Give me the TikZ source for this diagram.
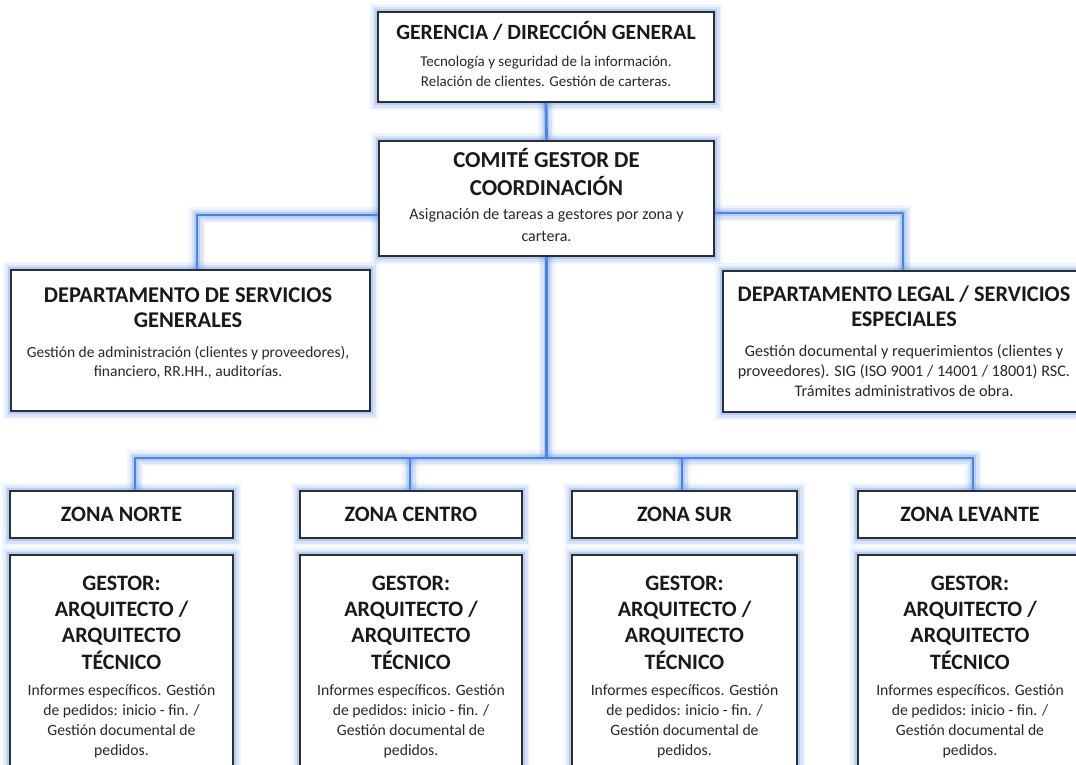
\documentclass[tikz,border=0pt]{standalone}
\usepackage{fontspec}
\setmainfont{Carlito}
\usetikzlibrary{backgrounds}
\definecolor{glowc}{RGB}{95,145,230}
\definecolor{linec}{RGB}{78,132,215}
\definecolor{boxc}{RGB}{45,45,55}
\definecolor{txtc}{RGB}{25,25,25}
\definecolor{desc}{RGB}{40,40,40}
\tikzset{
  halo/.style={
    preaction={draw=glowc, draw opacity=0.10, line width=16pt},
    preaction={draw=glowc, draw opacity=0.17, line width=11pt},
    preaction={draw=glowc, draw opacity=0.28, line width=6pt}},
  box/.style={rectangle, halo, draw=boxc, line width=1.1pt, fill=white, inner sep=0pt},
  conn/.style={draw=linec, line width=2.8pt, line join=round, halo},
  ttl/.style={anchor=north, align=center, inner sep=0pt, text=txtc,
    font=\bfseries\fontsize{22.3}{25}\selectfont},
  dsc/.style={anchor=north, align=center, inner sep=0pt, text=desc,
    font=\fontsize{15.7}{20.2}\selectfont},
}
\begin{document}
\begin{tikzpicture}[x=1pt,y=-1pt]
\useasboundingbox (0,0) rectangle (1076,764);
% boxes
\node[box, minimum width=336pt, minimum height=90pt] (ger) at (546,57) {};
\node[box, minimum width=335pt, minimum height=115pt] (com) at (546.5,198.5) {};
\node[box, minimum width=359pt, minimum height=141pt] (srv) at (190.5,340.5) {};
\node[box, minimum width=362pt, minimum height=141pt] (leg) at (904,341.5) {};
\foreach \n/\x/\w in {N/121.5/223, C/411/222, S/684.5/225, L/970/224}{
  \node[box, minimum width=\w pt, minimum height=47pt] (z\n) at (\x,514.5) {};
  \node[box, minimum width=\w pt, minimum height=235pt] (g\n) at (\x,672.5) {};
}
% texts
\node[ttl, font=\bfseries\fontsize{21.7}{27}\selectfont] (gerT) at (546,20.1) {\strut GERENCIA / DIRECCIÓN GENERAL};
\node[dsc, font=\fontsize{15}{20}\selectfont] (gerD) at (546,52) {\strut Tecnología y seguridad de la información.\\Relación de clientes. Gestión de carteras.};
\node[ttl, font=\bfseries\fontsize{22.8}{28}\selectfont] (comT) at (546.5,147.4) {\strut COMITÉ GESTOR DE\\COORDINACIÓN};
\node[dsc, font=\fontsize{16}{22}\selectfont] (comD) at (546.5,203.6) {\strut Asignación de tareas a gestores por zona y\\cartera.};
\node[ttl, font=\bfseries\fontsize{22.5}{25}\selectfont] (srvT) at (188,284.5) {\strut DEPARTAMENTO DE SERVICIOS\\GENERALES};
\node[dsc, font=\fontsize{15.5}{19}\selectfont] (srvD) at (188,343.7) {\strut Gestión de administración (clientes y proveedores),\\financiero, RR.HH., auditorías.};
\node[ttl] (legT) at (904,283.5) {\strut DEPARTAMENTO LEGAL / SERVICIOS\\ESPECIALES};
\node[dsc, font=\fontsize{16.2}{20}\selectfont] (legD) at (904,342) {\strut Gestión documental y requerimientos (clientes y\\proveedores). SIG (ISO 9001 / 14001 / 18001) RSC.\\Trámites administrativos de obra.};
\foreach \n/\x/\t in {N/121.5/NORTE, C/411/CENTRO, S/684.5/SUR, L/970/LEVANTE}{
  \node[ttl, anchor=base, font=\bfseries\fontsize{22}{26}\selectfont] (zT\n) at (\x,521) {ZONA \t};
  \node[ttl, font=\bfseries\fontsize{22}{26.3}\selectfont] (gT\n) at (\x,571.6) {\strut GESTOR:\\ARQUITECTO /\\ARQUITECTO\\TÉCNICO};
  \node[dsc, font=\fontsize{15.7}{20.2}\selectfont] (gD\n) at (\x,680.9) {\strut Informes específicos. Gestión\\de pedidos: inicio - fin. /\\Gestión documental de\\pedidos.};
}
% connectors
\coordinate (jL) at (197,215);
\coordinate (jR) at (903,213);
\coordinate (bus) at (546.5,458);
\coordinate (bN) at (135,458);
\coordinate (bC) at (410,458);
\coordinate (bS) at (682,458);
\coordinate (bL) at (973,458);
\begin{scope}[on background layer]
\draw[conn] (ger.south) -- (com.north);
\draw[conn] (com.west |- jL) -- (jL) -- (jL |- srv.north);
\draw[conn] (com.east |- jR) -- (jR) -- (jR |- leg.north);
\draw[conn] (com.south) -- (bus);
\draw[conn] (bN |- zN.north) -- (bN) -- (bL) -- (bL |- zL.north);
\draw[conn] (bC) -- (bC |- zC.north);
\draw[conn] (bS) -- (bS |- zS.north);
\end{scope}
\end{tikzpicture}
\end{document}
